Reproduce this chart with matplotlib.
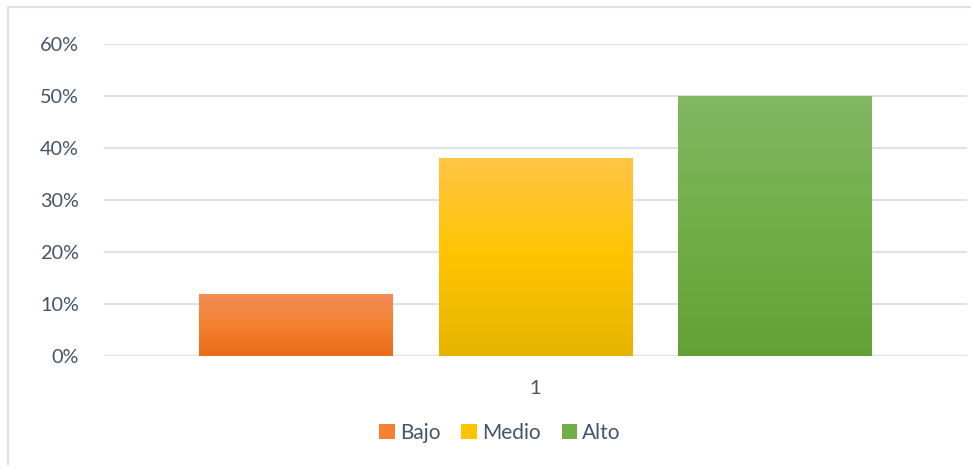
import matplotlib
matplotlib.use('Agg')
import matplotlib.pyplot as plt
import numpy as np
from matplotlib.colors import LinearSegmentedColormap
from matplotlib.patches import Rectangle
from matplotlib.ticker import PercentFormatter

categories = ['1']
series = ['Bajo', 'Medio', 'Alto']
values = [0.12, 0.38, 0.50]
# top, middle, bottom of each bar's gradient
gradients = [
    ['#F08C55', '#F58232', '#E86C1A'],
    ['#FFC545', '#FFC400', '#E6B400'],
    ['#82B763', '#70AF47', '#62A133'],
]

plt.rcParams['font.family'] = ['Lato', 'DejaVu Sans']
text_color = '#44546A'
grid_color = '#DCE0E7'

fig = plt.figure(figsize=[9.71, 4.65], dpi=100)
ax = fig.add_axes([104/971, 1 - 356/465, (967 - 104)/971, (356 - 44)/465])
ax.set_xlim(0, 1)
ax.set_ylim(0, 0.6)

width = 194/863
step = 239.25/863
grad = np.linspace(1, 0, 256).reshape(-1, 1)
handles = []
for i, (name, v, cols) in enumerate(zip(series, values, gradients)):
    x = 0.5 + (i - 1) * step - width/2
    cmap = LinearSegmentedColormap.from_list(name, [cols[2], cols[1], cols[0]])
    rect = Rectangle((x, 0), width, v, facecolor='none', edgecolor='none', zorder=3)
    ax.add_patch(rect)
    im = ax.imshow(grad, cmap=cmap, extent=[x, x + width, 0, v], aspect='auto',
                   interpolation='bilinear', zorder=3, vmin=0, vmax=1)
    im.set_clip_path(rect)
    handles.append(Rectangle((0, 0), 1, 1, facecolor=cols[1], edgecolor='none'))

ax.set_yticks(np.arange(0, 0.61, 0.1))
ax.yaxis.set_major_formatter(PercentFormatter(1.0, decimals=0))
ax.set_xticks([0.5])
ax.set_xticklabels(categories)
ax.grid(axis='y', color=grid_color, linewidth=1.5, zorder=0)
ax.set_axisbelow(True)
ax.tick_params(axis='both', length=0, labelsize=14.3, colors=text_color)
ax.tick_params(axis='y', pad=18)
ax.tick_params(axis='x', pad=17)
for s in ax.spines.values():
    s.set_visible(False)
ax.axhline(0, color=grid_color, linewidth=1.5, zorder=1)

fig.legend(handles, series, loc='center', bbox_to_anchor=(500/971, 1 - 433/465),
           ncol=3, frameon=False, fontsize=15, labelcolor=text_color,
           handlelength=0.75, handleheight=0.75, handletextpad=0.25, columnspacing=1.0)

# chart area border (only top and left are visible)
fig.add_artist(plt.Line2D([8/971, 8/971], [0, 1 - 7/465], color=grid_color, linewidth=1.5))
fig.add_artist(plt.Line2D([8/971, 1], [1 - 7/465, 1 - 7/465], color=grid_color, linewidth=1.5))

fig.savefig('out.png', dpi=100)
